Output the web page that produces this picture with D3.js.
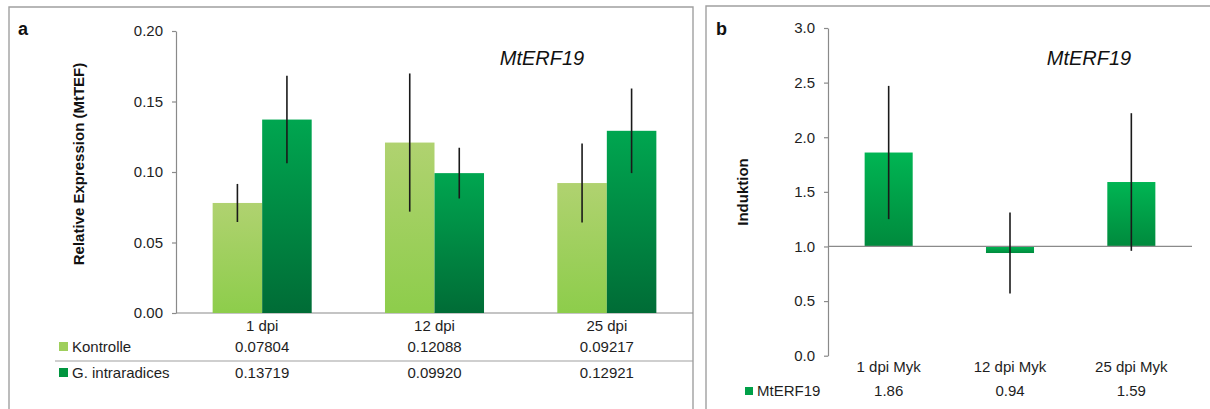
<!DOCTYPE html>
<html lang="de">
<head>
<meta charset="UTF-8">
<script src="https://d3js.org/d3.v7.min.js"></script>
<style>
  body { margin: 0; background: #fff; }
  svg { font-family: "Liberation Sans", Arial, sans-serif; }
  .axis text { font-size: 15px; fill: #1e1e1e; }
  .axis path, .axis line { stroke: #8a8a8a; stroke-width: 1.2; }
  .tbl { font-size: 15px; fill: #1e1e1e; }
  .frame { fill: none; stroke: #a0a0a0; stroke-width: 1.4; }
  .err { stroke: #1a1a1a; stroke-width: 1.6; }
</style>
</head>
<body>
<svg id="chart" width="1210" height="409"></svg>
<script>

// panel a data
const catsA = ["1 dpi", "12 dpi", "25 dpi"]
const seriesA = ["Kontrolle", "G. intraradices"]
const kontrolle = [0.07804, 0.12088, 0.09217]
const kontrolleErr = [0.0135, 0.049, 0.028]
const gintra = [0.13719, 0.09920, 0.12921]
const gintraErr = [0.031, 0.018, 0.030]
const ticksA = [0, 0.05, 0.10, 0.15, 0.20]

// panel b data
const catsB = ["1 dpi Myk", "12 dpi Myk", "25 dpi Myk"]
const induktion = [1.86, 0.94, 1.59]
const induktionErr = [0.61, 0.37, 0.63]
const ticksB = [0, 0.5, 1.0, 1.5, 2.0, 2.5, 3.0]

let svg = d3.select("#chart")

// gradients
let defs = svg.append("defs")
function grad(id, top, bottom) {
  let g = defs.append("linearGradient").attr("id", id)
      .attr("x1", 0).attr("y1", 0).attr("x2", 0).attr("y2", 1)
  g.append("stop").attr("offset", "0%").attr("stop-color", top)
  g.append("stop").attr("offset", "100%").attr("stop-color", bottom)
}
grad("gKon", "#b0d270", "#8dcd4b")
grad("gInt", "#00a650", "#006c36")
grad("gInd", "#00b553", "#008a3d")

// frames
svg.append("path").attr("class", "frame").attr("d", "M9,409V7H693V409")
svg.append("path").attr("class", "frame").attr("d", "M706,409V6H1210")

// ---------- panel a ----------
let xA = d3.scaleBand().domain(catsA).range([176, 693])
let x1 = d3.scaleBand().domain(seriesA).range([0, xA.bandwidth()]).paddingOuter(0.74)
let yA = d3.scaleLinear().domain([0, 0.2]).range([313, 31])

let a = svg.append("g")

a.append("g")
    .attr("class", "axis")
    .attr("transform", "translate(176,0)")
    .call(d3.axisLeft(yA).tickValues(ticksA).tickFormat(d3.format(".2f"))
      .tickSize(4).tickPadding(9).tickSizeOuter(0))

// baseline / table top line
a.append("line").attr("x1", 176).attr("x2", 693)
    .attr("y1", yA(0)).attr("y2", yA(0))
    .attr("stroke", "#8a8a8a").attr("stroke-width", 1.2)

let rowsA = [
  {name: seriesA[0], vals: kontrolle, err: kontrolleErr, fill: "url(#gKon)", key: "#9fcf5c"},
  {name: seriesA[1], vals: gintra, err: gintraErr, fill: "url(#gInt)", key: "#00953f"}
]

rowsA.forEach(s => {
  let g = a.append("g")
  g.selectAll("rect")
    .data(catsA)
    .join("rect")
      .attr("x", c => xA(c) + x1(s.name))
      .attr("width", x1.bandwidth())
      .attr("y", (c, i) => yA(s.vals[i]))
      .attr("height", (c, i) => yA(0) - yA(s.vals[i]))
      .attr("fill", s.fill)
  g.selectAll("line")
    .data(catsA)
    .join("line")
      .attr("class", "err")
      .attr("x1", c => xA(c) + x1(s.name) + x1.bandwidth() / 2)
      .attr("x2", c => xA(c) + x1(s.name) + x1.bandwidth() / 2)
      .attr("y1", (c, i) => yA(s.vals[i] + s.err[i]))
      .attr("y2", (c, i) => yA(s.vals[i] - s.err[i]))
})

// title, letter, y label
a.append("text").attr("x", 542).attr("y", 65).attr("text-anchor", "middle")
    .style("font-size", "20px").style("font-style", "italic").attr("fill", "#111").text("MtERF19")
a.append("text").attr("x", 18).attr("y", 35)
    .style("font-size", "18px").style("font-weight", "bold").attr("fill", "#111").text("a")
a.append("text").attr("transform", "translate(84,164) rotate(-90)").attr("text-anchor", "middle")
    .style("font-size", "15px").style("font-weight", "bold").attr("fill", "#111")
    .text("Relative Expression (MtTEF)")

// data table
a.selectAll(".cat").data(catsA).join("text")
    .attr("class", "tbl").attr("text-anchor", "middle")
    .attr("x", c => xA(c) + xA.bandwidth() / 2).attr("y", 331)
    .text(c => c)

const rowY = [352, 378]
rowsA.forEach((s, r) => {
  a.append("rect").attr("x", 59).attr("y", rowY[r] - 10).attr("width", 9).attr("height", 9).attr("fill", s.key)
  a.append("text").attr("class", "tbl").attr("x", 72).attr("y", rowY[r]).text(s.name)
  a.selectAll(".v" + r).data(catsA).join("text")
      .attr("class", "tbl").attr("text-anchor", "middle")
      .attr("x", c => xA(c) + xA.bandwidth() / 2).attr("y", rowY[r])
      .text((c, i) => d3.format(".5f")(s.vals[i]))
})
a.append("line").attr("x1", 55).attr("x2", 693).attr("y1", 361).attr("y2", 361)
    .attr("stroke", "#a0a0a0").attr("stroke-width", 1.2)

// ---------- panel b ----------
let xB = d3.scaleBand().domain(catsB).range([828, 1192]).paddingInner(0.604).paddingOuter(0.302)
let yB = d3.scaleLinear().domain([0, 3]).range([355.7, 28])

let b = svg.append("g")

b.append("g")
    .attr("class", "axis")
    .attr("transform", "translate(828,0)")
    .call(d3.axisLeft(yB).tickValues(ticksB).tickFormat(d3.format(".1f"))
      .tickSize(4).tickPadding(9).tickSizeOuter(0))

b.selectAll("rect.bar").data(catsB).join("rect")
    .attr("class", "bar")
    .attr("x", c => xB(c)).attr("width", xB.bandwidth())
    .attr("y", (c, i) => yB(Math.max(induktion[i], 1)))
    .attr("height", (c, i) => Math.abs(yB(induktion[i]) - yB(1)))
    .attr("fill", "url(#gInd)")

b.append("line").attr("x1", 828).attr("x2", 1192)
    .attr("y1", yB(1)).attr("y2", yB(1))
    .attr("stroke", "#8a8a8a").attr("stroke-width", 1.2)

b.selectAll("line.err").data(catsB).join("line")
    .attr("class", "err")
    .attr("x1", c => xB(c) + xB.bandwidth() / 2)
    .attr("x2", c => xB(c) + xB.bandwidth() / 2)
    .attr("y1", (c, i) => yB(induktion[i] + induktionErr[i]))
    .attr("y2", (c, i) => yB(induktion[i] - induktionErr[i]))

b.append("text").attr("x", 1089).attr("y", 65).attr("text-anchor", "middle")
    .style("font-size", "20px").style("font-style", "italic").attr("fill", "#111").text("MtERF19")
b.append("text").attr("x", 716).attr("y", 35)
    .style("font-size", "18px").style("font-weight", "bold").attr("fill", "#111").text("b")
b.append("text").attr("transform", "translate(748,192) rotate(-90)").attr("text-anchor", "middle")
    .style("font-size", "15px").style("font-weight", "bold").attr("fill", "#111").text("Induktion")

b.selectAll(".cat").data(catsB).join("text")
    .attr("class", "tbl").attr("text-anchor", "middle")
    .attr("x", c => xB(c) + xB.bandwidth() / 2).attr("y", 372)
    .text(c => c)
b.append("rect").attr("x", 745).attr("y", 387).attr("width", 8).attr("height", 8).attr("fill", "#00a048")
b.append("text").attr("class", "tbl").attr("x", 757).attr("y", 396).text("MtERF19")
b.selectAll(".val").data(catsB).join("text")
    .attr("class", "tbl").attr("text-anchor", "middle")
    .attr("x", c => xB(c) + xB.bandwidth() / 2).attr("y", 396)
    .text((c, i) => d3.format(".2f")(induktion[i]))

</script>
</body>
</html>
